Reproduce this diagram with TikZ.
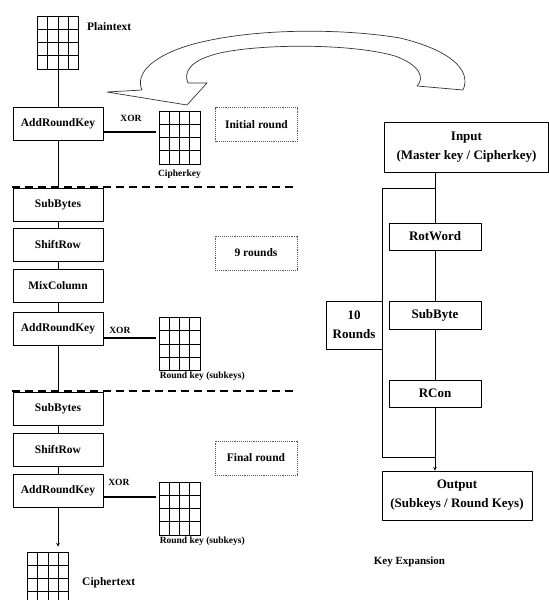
\documentclass[tikz,border=0pt]{standalone}
\usepackage{fontspec}
\setmainfont{Liberation Serif}
\usetikzlibrary{calc,arrows,positioning}

\begin{document}
\begin{tikzpicture}[x=1pt, y=-1pt,
    box/.style={rectangle, draw, line width=0.7pt, minimum width=90pt, minimum height=33pt, inner sep=1pt, text centered, font=\fontsize{11.5}{13}\bfseries\selectfont},
    kbox/.style={box, minimum width=92pt, minimum height=27pt, align=center, font=\fontsize{13}{19}\bfseries\selectfont},
    phase/.style={rectangle, draw=gray!70!black, densely dotted, line width=0.9pt, minimum width=82pt, minimum height=34pt, font=\fontsize{11.5}{13}\bfseries\selectfont},
    statebox/.style={rectangle, draw, line width=0.8pt, minimum width=41pt, minimum height=53pt, inner sep=0pt,
        path picture={
            \foreach \k in {1,2,3} {
                \draw[line width=0.8pt] ($(path picture bounding box.south west)!\k/4!(path picture bounding box.south east)$) -- ($(path picture bounding box.north west)!\k/4!(path picture bounding box.north east)$);
                \draw[line width=0.8pt] ($(path picture bounding box.south west)!\k/4!(path picture bounding box.north west)$) -- ($(path picture bounding box.south east)!\k/4!(path picture bounding box.north east)$);
            }}},
    lbl/.style={font=\fontsize{11.5}{13}\bfseries\selectfont, inner sep=1pt},
    keylabel/.style={font=\fontsize{9.5}{11}\bfseries\selectfont, inner sep=1pt},
    arrow/.style={->, >=stealth, line width=0.7pt},
    xorline/.style={line width=2pt},
    roundsep/.style={dash pattern=on 8pt off 5pt, line width=1.6pt}
]
    \useasboundingbox (0,0) rectangle (549,600);

    % encryption side
    \node[statebox] (pt) at (58,42.5) {};
    \node[lbl, anchor=west] (ptlbl) at (86,27) {Plaintext};
    \node[box] (ark1) at (58,123.5) {AddRoundKey};
    \node[statebox] (ck) at (179.5,137.5) {};
    \node[keylabel, below=4pt of ck] (cklbl) {Cipherkey};
    \node[phase] (init) at (256.5,124.5) {Initial round};

    \node[box] (sb1) at (58,204.5) {SubBytes};
    \node[box] (sr1) at (58,244.5) {ShiftRow};
    \node[box] (mc) at (58,286) {MixColumn};
    \node[box] (ark2) at (58,328.5) {AddRoundKey};
    \node[statebox] (rk1) at (179.5,344) {};
    \node[keylabel, anchor=north west] (rk1lbl) at (rk1.south west) {Round key (subkeys)};
    \node[phase] (nine) at (256,253) {9 rounds};

    \node[box] (sb2) at (58,408.5) {SubBytes};
    \node[box] (sr2) at (58,449.5) {ShiftRow};
    \node[box] (ark3) at (58,491) {AddRoundKey};
    \node[statebox] (rk2) at (179.5,508.5) {};
    \node[keylabel, anchor=north west] (rk2lbl) at (rk2.south west) {Round key (subkeys)};
    \node[phase] (final) at (256,458) {Final round};

    \node[statebox] (ct) at (48,578.5) {};
    \node[lbl, anchor=west] (ctlbl) at (81,583) {Ciphertext};

    \draw[roundsep] (12,187) -- (297,187);
    \draw[roundsep] (12,391) -- (297,391);

    \draw[line width=0.7pt] (pt) -- (ark1);
    \draw[line width=0.7pt] (ark1) -- (sb1);
    \draw[line width=0.7pt] (sb1) -- (sr1);
    \draw[line width=0.7pt] (sr1) -- (mc);
    \draw[line width=0.7pt] (mc) -- (ark2);
    \draw[line width=0.7pt] (ark2) -- (sb2);
    \draw[line width=0.7pt] (sb2) -- (sr2);
    \draw[line width=0.7pt] (sr2) -- (ark3);
    \draw[arrow, shorten >=5pt] (ark3) -- (ark3 |- ct.north);

    \draw[xorline, shorten >=3pt] ([yshift=-8.5pt]ark1.east) -- ([yshift=-8.5pt]ark1.east -| ck.west) node[keylabel, pos=.5, above=8pt] {XOR};
    \draw[xorline, shorten >=3pt] ([yshift=-9.5pt]ark2.east) -- ([yshift=-9.5pt]ark2.east -| rk1.west) node[keylabel, pos=.3, above=2pt] {XOR};
    \draw[xorline, shorten >=3pt] ([yshift=-6pt]ark3.east) -- ([yshift=-6pt]ark3.east -| rk2.west) node[keylabel, pos=.28, above=9pt] {XOR};

    % big curved arrow
    \draw[line width=0.7pt, draw=black!80, line join=round]
        (463,90) .. controls (472,70) and (450,50) .. (400,38)
        .. controls (340,28) and (250,28) .. (190,45)
        .. controls (150,57) and (135,75) .. (142,90)
        -- (107,92) -- (187,105) -- (207,83) -- (188,83)
        .. controls (183,72) and (190,60) .. (220,53)
        .. controls (260,44) and (350,43) .. (395,56)
        .. controls (420,65) and (425,78) .. (417,86)
        -- cycle;

    % key expansion side
    \node[kbox, minimum width=164pt, minimum height=50pt] (in) at (466.5,147) {Input\\(Master key / Cipherkey)};
    \node[kbox] (rw) at (435,236.5) {RotWord};
    \node[kbox, minimum height=28pt] (sbk) at (435,315) {SubByte};
    \node[kbox] (rc) at (435,393.5) {RCon};
    \node[kbox, minimum width=150pt, minimum height=49pt] (out) at (457,495.5) {Output\\(Subkeys / Round Keys)};
    \node[kbox, minimum width=56pt, minimum height=48pt] (nr) at (354,325) {10\\Rounds};
    \node[lbl, font=\fontsize{11}{13}\bfseries\selectfont] (kexp) at (409.5,562) {Key Expansion};

    \coordinate (ltop) at (382,188);
    \coordinate (lbot) at (382,457);
    \draw[line width=0.7pt] (in.south -| rw) -- (rw);
    \draw[line width=0.7pt] (rw) -- (sbk);
    \draw[line width=0.7pt] (sbk) -- (rc);
    \draw[arrow] (rc) -- (rc |- out.north);
    \draw[line width=0.7pt] (ltop -| rw) -- (ltop) -- (lbot) -- (lbot -| rw);
\end{tikzpicture}
\end{document}
